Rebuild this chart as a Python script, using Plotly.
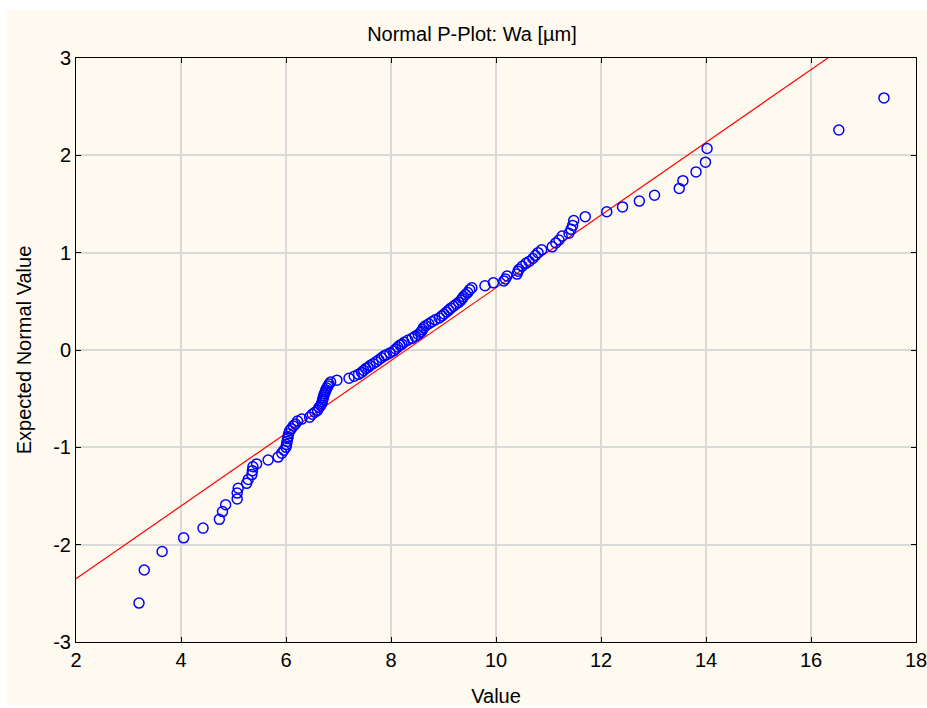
import plotly.graph_objects as go

values = [
    3.20, 3.30, 3.64, 4.05, 4.42, 4.73, 4.79, 4.85, 5.07, 5.07,
    5.09, 5.25, 5.28, 5.35, 5.36, 5.37, 5.44, 5.66, 5.85, 5.92,
    5.96, 6.00, 6.01, 6.02, 6.03, 6.04, 6.05, 6.07, 6.10, 6.14,
    6.18, 6.22, 6.30, 6.45, 6.50, 6.55, 6.60, 6.63, 6.66, 6.68,
    6.69, 6.70, 6.71, 6.72, 6.73, 6.75, 6.76, 6.78, 6.80, 6.82,
    6.85, 6.97, 7.20, 7.30, 7.38, 7.44, 7.48, 7.52, 7.56, 7.60,
    7.66, 7.72, 7.77, 7.82, 7.87, 7.91, 7.98, 8.05, 8.09, 8.13,
    8.17, 8.21, 8.25, 8.32, 8.40, 8.46, 8.52, 8.56, 8.58, 8.60,
    8.62, 8.66, 8.72, 8.78, 8.84, 8.92, 8.97, 9.01, 9.06, 9.10,
    9.14, 9.19, 9.24, 9.29, 9.33, 9.36, 9.38, 9.42, 9.46, 9.50,
    9.54, 9.79, 9.95, 10.15, 10.18, 10.21, 10.40, 10.42, 10.44, 10.50,
    10.57, 10.63, 10.70, 10.75, 10.80, 10.87, 11.07, 11.14, 11.20, 11.26,
    11.39, 11.43, 11.46, 11.48, 11.70, 12.11, 12.41, 12.73, 13.02, 13.49,
    13.56, 13.81, 13.99, 14.02, 16.53, 17.39,
]

# Expected normal values
expected = [
    -2.60, -2.26, -2.07, -1.93, -1.83, -1.74, -1.66, -1.59, -1.53, -1.47,
    -1.42, -1.37, -1.33, -1.28, -1.24, -1.20, -1.17, -1.13, -1.10, -1.06,
    -1.03, -1.00, -0.97, -0.94, -0.91, -0.89, -0.86, -0.83, -0.81, -0.78,
    -0.76, -0.73, -0.71, -0.69, -0.66, -0.64, -0.62, -0.59, -0.57, -0.55,
    -0.53, -0.51, -0.49, -0.47, -0.45, -0.43, -0.41, -0.39, -0.37, -0.35,
    -0.33, -0.31, -0.29, -0.27, -0.25, -0.23, -0.21, -0.19, -0.18, -0.16,
    -0.14, -0.12, -0.10, -0.08, -0.06, -0.05, -0.03, -0.01,
    0.01, 0.03, 0.05, 0.06, 0.08, 0.10, 0.12, 0.14, 0.16, 0.18,
    0.19, 0.21, 0.23, 0.25, 0.27, 0.29, 0.31, 0.33, 0.35, 0.37,
    0.39, 0.41, 0.43, 0.45, 0.47, 0.49, 0.51, 0.53, 0.55, 0.57,
    0.59, 0.62, 0.64, 0.66, 0.69, 0.71, 0.73, 0.76, 0.78, 0.81,
    0.83, 0.86, 0.89, 0.91, 0.94, 0.97, 1.00, 1.03, 1.06, 1.10,
    1.13, 1.17, 1.20, 1.24, 1.28, 1.33, 1.37, 1.42, 1.47, 1.53,
    1.59, 1.66, 1.74, 1.83, 1.93, 2.07, 2.26, 2.59,
]

# Reference normal line parameters (mean, std of the sample)
fit_mean = 8.29
fit_sd = 2.677

x_ticks = [2, 4, 6, 8, 10, 12, 14, 16, 18]
y_ticks = [-3, -2, -1, 0, 1, 2, 3]

x_range = [2, 18]
y_range = [-3, 3]

line_x = [x_range[0], x_range[1]]
line_y = [(v - fit_mean) / fit_sd for v in line_x]

FONT = "Liberation Sans, Arial, sans-serif"
FS = 20
CREAM = "#fffaf0"

fig = go.Figure()
fig.add_trace(go.Scatter(
    x=line_x, y=line_y, mode="lines",
    line=dict(color="#ff0000", width=1.2),
    hoverinfo="skip", showlegend=False,
))
fig.add_trace(go.Scatter(
    x=values, y=expected, mode="markers",
    marker=dict(symbol="circle-open", size=10, color="#0000ff",
                line=dict(color="#0000ff", width=1.5)),
    showlegend=False,
))

fig.update_layout(
    width=927, height=708,
    margin=dict(l=76, r=11, t=58, b=66),
    paper_bgcolor="white",
    plot_bgcolor="white",
    font=dict(family=FONT, size=FS, color="black"),
    title=dict(text="Normal P-Plot: Wa [µm]", x=472 / 927, xref="container",
               xanchor="center", y=1 - 34 / 708, yanchor="middle",
               font=dict(family=FONT, size=FS, color="black")),
    shapes=[dict(type="rect", xref="paper", yref="paper",
                 x0=(7 - 76) / 840, x1=(927 - 76) / 840,
                 y0=(642 - 705) / 584, y1=(642 - 10) / 584,
                 fillcolor=CREAM, line=dict(width=0), layer="below")],
)

fig.update_xaxes(
    range=x_range, tickvals=x_ticks, ticktext=[str(t) for t in x_ticks],
    showgrid=True, gridcolor="#d9d9d9", gridwidth=1.5,
    showline=True, linecolor="black", linewidth=1, mirror="ticks",
    ticks="inside", ticklen=5, tickcolor="black",
    zeroline=False, automargin=False, ticklabeloverflow="allow",
    title=dict(text="Value", font=dict(family=FONT, size=FS), standoff=18),
    tickfont=dict(family=FONT, size=FS),
)
fig.update_yaxes(
    range=y_range, tickvals=y_ticks, ticktext=[str(t) for t in y_ticks],
    showgrid=True, gridcolor="#d9d9d9", gridwidth=1.5,
    showline=True, linecolor="black", linewidth=1, mirror="ticks",
    ticks="inside", ticklen=5, tickcolor="black",
    zeroline=False, automargin=False, ticklabeloverflow="allow",
    title=dict(text="Expected Normal Value", font=dict(family=FONT, size=FS), standoff=16),
    tickfont=dict(family=FONT, size=FS),
)

fig.write_html("out.html")
